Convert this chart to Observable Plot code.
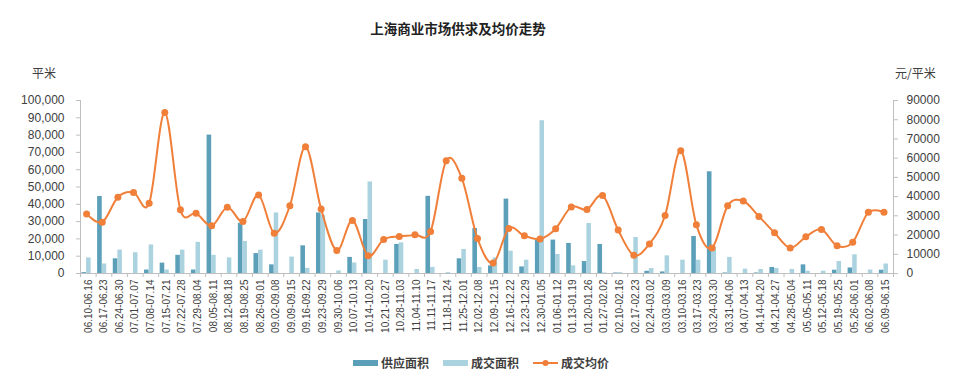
<!DOCTYPE html>
<html>
<head>
<meta charset="utf-8">
<script src="https://cdn.jsdelivr.net/npm/d3@7"></script>
<script src="https://cdn.jsdelivr.net/npm/@observablehq/plot@0.6"></script>
<style>
  body { margin: 0; background: #fff; font-family: "Liberation Sans", "Noto Sans CJK SC", sans-serif; }
  #wrap { position: relative; width: 960px; height: 375px; overflow: hidden; }
  .abs { position: absolute; white-space: nowrap; color: #404040; }
  #title { left: 0; width: 916px; top: 18px; text-align: center; font-size: 13.5px; font-weight: bold; color: #222; font-family: "Noto Sans CJK SC", sans-serif; }
  .unit { top: 64px; font-size: 12px; font-family: "Noto Sans CJK SC", sans-serif; }
  .leg { top: 354px; font-size: 12px; font-weight: bold; font-family: "Noto Sans CJK SC", sans-serif; color: #404040; display: flex; align-items: center; }
  .sw { display: inline-block; width: 25px; height: 6px; margin-right: 3px; }
</style>
</head>
<body>
<div id="wrap">
  <div id="chart"></div>
  <div id="title" class="abs">上海商业市场供求及均价走势</div>
  <div class="abs unit" style="left:32px">平米</div>
  <div class="abs unit" style="left:895px">元/平米</div>
  <div class="abs leg" style="left:353px"><span class="sw" style="background:#5b9fb9"></span>供应面积</div>
  <div class="abs leg" style="left:443px"><span class="sw" style="background:#aad2df"></span>成交面积</div>
  <div class="abs leg" style="left:533px"><svg width="25" height="10" style="margin-right:3px"><line x1="0" y1="5" x2="25" y2="5" stroke="#f07f3a" stroke-width="2"/><circle cx="12.5" cy="5" r="3" fill="#f07f3a"/></svg>成交均价</div>
</div>
<script>
const categories = ["06.10-06.16","06.17-06.23","06.24-06.30","07.01-07.07","07.08-07.14","07.15-07.21","07.22-07.28","07.29-08.04","08.05-08.11","08.12-08.18","08.19-08.25","08.26-09.01","09.02-09.08","09.09-09.15","09.16-09.22","09.23-09.29","09.30-10.06","10.07-10.13","10.14-10.20","10.21-10.27","10.28-11.03","11.04-11.10","11.11-11.17","11.18-11.24","11.25-12.01","12.02-12.08","12.09-12.15","12.16-12.22","12.23-12.29","12.30-01.05","01.06-01.12","01.13-01.19","01.20-01.26","01.27-02.02","02.10-02.16","02.17-02.23","02.24-03.02","03.03-03.09","03.10-03.16","03.17-03.23","03.24-03.30","03.31-04.06","04.07-04.13","04.14-04.20","04.21-04.27","04.28-05.04","05.05-05.11","05.12-05.18","05.19-05.25","05.26-06.01","06.02-06.08","06.09-06.15"];
const supply = [500,44500,8500,0,2000,6000,10500,2000,80000,0,29000,11500,5000,0,16000,35000,0,9300,31200,0,16800,0,44600,0,8500,26000,4400,43000,3800,19300,19300,17400,6900,16800,300,0,1300,900,0,21400,58800,300,0,300,3500,0,5000,0,1900,3200,0,1900];
const trade = [9000,5500,13500,12000,16500,2000,13500,18000,10500,9000,18500,13500,35000,9500,3000,33500,1500,6100,52900,7700,17700,2300,3500,500,13900,3500,9000,12900,7700,88300,11000,4400,28900,300,500,20800,2900,10200,7700,7700,15400,9300,2500,2300,2900,2300,1300,1300,6900,10800,2000,5500];
const price = [31000,26700,39700,42200,36500,83700,33100,31400,24800,34500,27100,40800,21000,35200,66000,33500,12000,27600,9200,17700,19300,20100,21900,58700,49500,18200,5400,23400,19600,18000,23300,34600,33300,40600,22600,9500,15400,30200,63900,25300,13300,35200,37700,29700,21200,13300,19100,22900,14400,16300,31800,31800];
const leftTicks = d3.range(0, 100001, 10000);
const rightTicks = d3.range(0, 90001, 10000);

const data = categories.map((c, i) => ({cat: c, supply: supply[i], trade: trade[i], price: price[i]}));
const k = 100000 / 90000;
const W = 960, ML = 80, MR = 67;
const bw = (W - ML - MR) / categories.length;
const dark = "#5b9fb9", light = "#aad2df", orange = "#f07f3a", axisGray = "#bfbfbf";

const chart = Plot.plot({
  width: W, height: 375,
  marginLeft: ML, marginRight: MR, marginTop: 100, marginBottom: 102,
  x: {type: "band", domain: categories, padding: 0, label: null},
  y: {domain: [0, 100000], label: null},
  style: {fontFamily: "'Liberation Sans', 'Noto Sans CJK SC', sans-serif", color: "#404040", background: "transparent"},
  marks: [
    Plot.barY(data, {x: "cat", y: "supply", fill: dark, insetLeft: 1.5, insetRight: bw - 6.1}),
    Plot.barY(data, {x: "cat", y: "trade", fill: light, insetLeft: 6.1, insetRight: bw - 10.6}),
    Plot.frame({anchor: "left", stroke: axisGray}),
    Plot.frame({anchor: "right", stroke: axisGray}),
    Plot.ruleY([0], {stroke: axisGray}),
    Plot.ruleX(data, {x: "cat", dx: -bw / 2, y1: 0, y2: 0, insetBottom: -4, stroke: axisGray}),
    Plot.ruleX([categories[categories.length - 1]], {x: d => d, dx: bw / 2, y1: 0, y2: 0, insetBottom: -4, stroke: axisGray}),
    Plot.line(data, {x: "cat", y: d => d.price * k, stroke: orange, strokeWidth: 2, curve: "cardinal", dx: -1.7}),
    Plot.dot(data, {x: "cat", y: d => d.price * k, r: 3.5, fill: orange, dx: -1.7}),
    Plot.axisY(leftTicks, {anchor: "left", tickSize: 4, tickPadding: 12, tickFormat: d3.format(","), fontSize: 12, stroke: axisGray, fill: "#404040", label: null}),
    Plot.axisY(rightTicks.map(v => v * k), {anchor: "right", tickSize: 4, tickPadding: 9, tickFormat: v => String(Math.round(v / k)), fontSize: 12, stroke: axisGray, fill: "#404040", label: null}),
    Plot.axisX({tickRotate: -90, tickSize: 0, tickPadding: 6, fontSize: 10, fill: "#404040", label: null})
  ]
});
document.getElementById("chart").appendChild(chart);
</script>
</body>
</html>
